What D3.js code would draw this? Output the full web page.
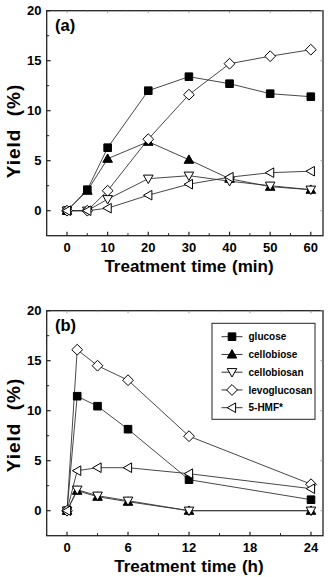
<!DOCTYPE html>
<html><head><meta charset="utf-8">
<script src="https://cdn.jsdelivr.net/npm/d3@7"></script>
<style>
html,body{margin:0;padding:0;background:#fff;}
svg{display:block;}
text{font-family:"Liberation Sans",Arial,sans-serif;font-weight:bold;fill:#000;}
</style></head>
<body>
<svg id="c" width="332" height="577"></svg>
<script>
// ---- data ----
const seriesNames = ["glucose","cellobiose","cellobiosan","levoglucosan","5-HMF*"];
const timeA = [0,5,10,20,30,40,50,60];
const glucoseA      = [0,2.1,6.3,12.0,13.4,12.7,11.7,11.4];
const cellobioseA   = [0,2.0,5.2,6.9,5.1,3.2,2.4,2.1];
const cellobiosanA  = [0,0,1.15,3.2,3.5,2.95,2.5,2.1];
const levoglucosanA = [0,0,2.0,7.15,11.6,14.7,15.45,16.1];
const hmfA          = [0,0,0.25,1.55,2.65,3.35,3.8,3.95];

const timeB = [0,1,3,6,12,24];
const glucoseB      = [0,11.45,10.45,8.15,3.1,1.1];
const cellobioseB   = [0,2.0,1.4,0.9,0,0];
const cellobiosanB  = [0,2.1,1.5,1.0,0,0];
const levoglucosanB = [0,16.1,14.5,13.05,7.45,2.65];
const hmfB          = [0,4.0,4.3,4.3,3.7,2.2];

const yTicks = [0,5,10,15,20];
const xTicksA = [0,10,20,30,40,50,60];
const xTicksB = [0,6,12,18,24];

// ---- drawing ----
const svg = d3.select("#c");

function markerPath(kind){
  switch(kind){
    case "square": { const s=3.8; return `M${-s},${-s}H${s}V${s}H${-s}Z`; }
    case "up":     return "M0,-4.8L4.8,3.6L-4.8,3.6Z";
    case "down":   return "M0,4.8L4.8,-3.6L-4.8,-3.6Z";
    case "left":   return "M-4.8,0L3.6,-4.8L3.6,4.8Z";
    case "diamond":{ const s=5.4; return `M0,${-s}L${s},0L0,${s}L${-s},0Z`; }
  }
}
const styles = [
  {kind:"square", fill:"#000"},
  {kind:"up", fill:"#000"},
  {kind:"down", fill:"#fff"},
  {kind:"diamond", fill:"#fff"},
  {kind:"left", fill:"#fff"}
];

function panel(opt){
  const g = svg.append("g");
  const x = d3.scaleLinear().domain(opt.xDomain).range([46.7,323]);
  const y = d3.scaleLinear().domain([-2.5,20]).range([opt.bottom, opt.bottom-225]);
  const top = opt.bottom-225;

  g.append("rect").attr("x",46.7).attr("y",top).attr("width",323-46.7).attr("height",225)
    .attr("fill","none").attr("stroke","#222").attr("stroke-width",1.3);

  opt.xTicks.forEach(v=>{
    g.append("line").attr("x1",x(v)).attr("x2",x(v)).attr("y1",opt.bottom).attr("y2",opt.bottom-4).attr("stroke","#222").attr("stroke-width",1.2);
    g.append("line").attr("x1",x(v)).attr("x2",x(v)).attr("y1",top).attr("y2",top+2.5).attr("stroke","#888").attr("stroke-width",0.8);
    g.append("text").attr("x",x(v)).attr("y",opt.bottom+16).attr("text-anchor","middle").attr("font-size",13).text(v);
  });
  opt.xMinor.forEach(v=>{
    g.append("line").attr("x1",x(v)).attr("x2",x(v)).attr("y1",opt.bottom).attr("y2",opt.bottom-2.5).attr("stroke","#222").attr("stroke-width",1);
    g.append("line").attr("x1",x(v)).attr("x2",x(v)).attr("y1",top).attr("y2",top+1.5).attr("stroke","#999").attr("stroke-width",0.8);
  });
  yTicks.forEach(v=>{
    g.append("line").attr("x1",46.7).attr("x2",50.7).attr("y1",y(v)).attr("y2",y(v)).attr("stroke","#222").attr("stroke-width",1.2);
    g.append("line").attr("x1",323).attr("x2",320.5).attr("y1",y(v)).attr("y2",y(v)).attr("stroke","#888").attr("stroke-width",0.8);
    g.append("text").attr("x",41.5).attr("y",y(v)+4.6).attr("text-anchor","end").attr("font-size",13).text(v);
  });
  [2.5,7.5,12.5,17.5].forEach(v=>{
    g.append("line").attr("x1",46.7).attr("x2",49.2).attr("y1",y(v)).attr("y2",y(v)).attr("stroke","#222").attr("stroke-width",1);
  });

  g.append("text").attr("transform",`translate(19.5,${opt.yTitleY}) rotate(-90)`)
    .attr("text-anchor","middle").attr("font-size",19).attr("letter-spacing",1).attr("word-spacing",6).text("Yield (%)");
  g.append("text").attr("x",189).attr("y",opt.bottom+36).attr("text-anchor","middle")
    .attr("font-size",17).attr("word-spacing",1).text(opt.xTitle);
  g.append("text").attr("x",55).attr("y",top+20).attr("font-size",16.5).text(opt.label);

  const line = d3.line().x(d=>x(d[0])).y(d=>y(d[1]));
  opt.series.forEach((vals,i)=>{
    const pts = opt.time.map((t,j)=>[t,vals[j]]);
    g.append("path").attr("d",line(pts)).attr("fill","none").attr("stroke","#333").attr("stroke-width",0.9);
  });
  opt.series.forEach((vals,i)=>{
    const st = styles[i];
    opt.time.forEach((t,j)=>{
      g.append("path").attr("d",markerPath(st.kind))
        .attr("transform",`translate(${x(t)},${y(vals[j])})`)
        .attr("fill",st.fill).attr("stroke","#000").attr("stroke-width",1);
    });
  });

  if(opt.legend){
    const lg = g.append("g");
    lg.append("rect").attr("x",212).attr("y",323.3).attr("width",103).attr("height",96)
      .attr("fill","#fff").attr("stroke","#222").attr("stroke-width",1);
    seriesNames.forEach((n,i)=>{
      const yy = 336.7 + i*17.75;
      lg.append("line").attr("x1",221.5).attr("x2",242.5).attr("y1",yy).attr("y2",yy).attr("stroke","#333").attr("stroke-width",1);
      lg.append("path").attr("d",markerPath(styles[i].kind)).attr("transform",`translate(232,${yy})`)
        .attr("fill",styles[i].fill).attr("stroke","#000").attr("stroke-width",1);
      lg.append("text").attr("x",248.5).attr("y",yy+3.6).attr("font-size",10).text(n);
    });
  }
}

panel({
  xDomain:[-5,63], bottom:235.7, xTicks:xTicksA, xMinor:[5,15,25,35,45,55],
  yTitleY:131, xTitle:"Treatment time (min)", label:"(a)", time:timeA,
  series:[glucoseA,cellobioseA,cellobiosanA,levoglucosanA,hmfA], legend:false
});
panel({
  xDomain:[-2,25.18], bottom:535.7, xTicks:xTicksB, xMinor:[3,9,15,21],
  yTitleY:425, xTitle:"Treatment time (h)", label:"(b)", time:timeB,
  series:[glucoseB,cellobioseB,cellobiosanB,levoglucosanB,hmfB], legend:true
});
</script>
</body></html>
